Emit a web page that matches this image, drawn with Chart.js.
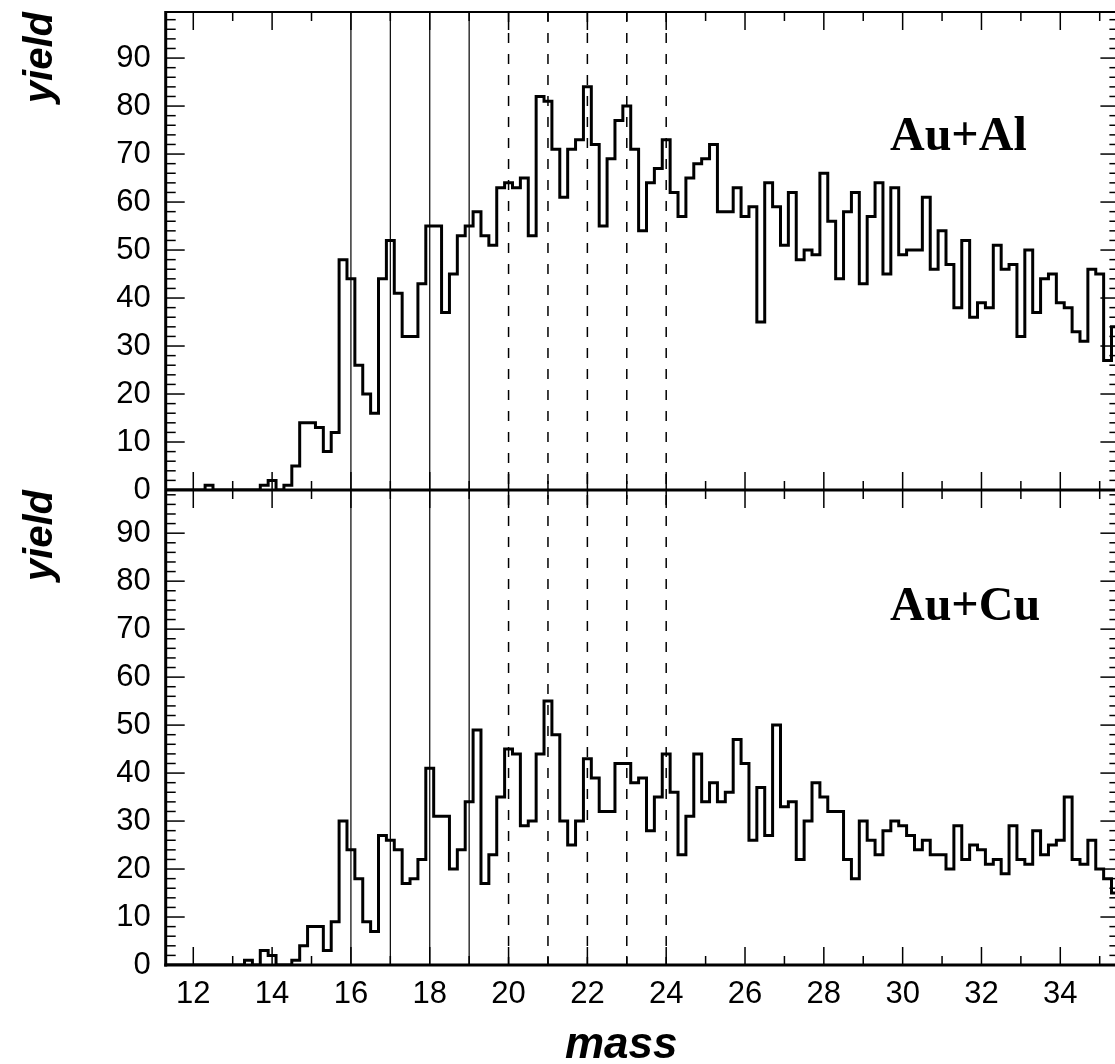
<!DOCTYPE html>
<html>
<head>
<meta charset="utf-8">
<script src="https://cdn.jsdelivr.net/npm/chart.js@4.4.1/dist/chart.umd.min.js"></script>
<style>
  html, body { margin: 0; padding: 0; background: #fff; overflow: hidden; }
  #wrap { width: 1115px; height: 1064px; overflow: hidden; }
  canvas { display: block; }
</style>
</head>
<body>
<div id="wrap"><canvas id="massChart" width="1140" height="1064"></canvas></div>
<script>
// histogram binning: 0.2 wide bins from 11.3 to 35.5 (centres 11.4 ... 35.4)
const BIN_LO = 11.3;
const BIN_W = 0.2;

// Au+Al yield per bin
const yieldAuAl = [
    0, 0, 0, 0, 0, 1, 0, 0, 0, 0, 0, 0, 1, 2, 0, 1, 5, 14, 14, 13, 8, 12, 48,
    44, 26, 20, 16, 44, 52, 41, 32, 32, 43,
    55, 55, 37, 45, 53, 55, 58, 53, 51, 63,
    64, 63, 65, 53, 82, 81, 71, 61, 71, 73,
    84, 72, 55, 69, 77, 80, 71, 54, 64, 67,
    73, 62, 57, 65, 68, 69, 72, 58, 58, 63,
    57, 59, 35, 64, 59, 51, 62, 48, 50, 49,
    66, 56, 44, 58, 62, 43, 57, 64, 45, 63,
    49, 50, 50, 61, 46, 54, 47, 38, 52, 36,
    39, 38, 51, 46, 47, 32, 50, 37, 44, 45,
    39, 38, 33, 31, 46, 45, 27, 34
];

// Au+Cu yield per bin
const yieldAuCu = [
    0, 0, 0, 0, 0, 0, 0, 0, 0, 0, 1, 0, 3, 2, 0, 0, 1, 4, 8, 8, 3, 9, 30,
    24, 18, 9, 7, 27, 26, 24, 17, 18, 22,
    41, 31, 31, 20, 24, 34, 49, 17, 23, 35,
    45, 44, 29, 30, 44, 55, 48, 30, 25, 30,
    43, 39, 32, 32, 42, 42, 38, 39, 28, 35,
    44, 36, 23, 31, 44, 34, 38, 34, 36, 47,
    42, 26, 37, 27, 50, 33, 34, 22, 30, 38,
    35, 32, 32, 22, 18, 30, 26, 23, 28, 30,
    29, 27, 24, 26, 23, 23, 20, 29, 22, 25,
    24, 21, 22, 19, 29, 22, 21, 28, 23, 25,
    26, 35, 22, 21, 26, 20, 18, 15
];

const massTicks = [12, 14, 16, 18, 20, 22, 24, 26, 28, 30, 32, 34];
const yieldTicks = [0, 10, 20, 30, 40, 50, 60, 70, 80, 90];
const solidMarks = [16, 17, 18, 19];
const dashedMarks = [20, 21, 22, 23, 24];
const panelLabels = ['Au+Al', 'Au+Cu'];

// step outline: one point on the left edge of each bin, plus the closing edge
function stepPoints(values) {
    const pts = values.map((v, i) => ({ x: BIN_LO + i * BIN_W, y: v }));
    pts.push({ x: BIN_LO + values.length * BIN_W, y: values[values.length - 1] });
    return pts;
}

const SANS = '"Liberation Sans", Arial, sans-serif';
const SERIF = '"Liberation Serif", "Times New Roman", serif';
Chart.defaults.font.family = SANS;
Chart.defaults.color = '#000';

function strokeLine(ctx, x1, y1, x2, y2) {
    ctx.beginPath();
    ctx.moveTo(x1, y1);
    ctx.lineTo(x2, y2);
    ctx.stroke();
}

// ROOT style frame: inner ticks on all sides, marker lines, panel labels
const rootFrame = {
    id: 'rootFrame',
    beforeDatasetsDraw(chart) {
        const { ctx, chartArea: a, scales: { x } } = chart;
        ctx.save();
        ctx.strokeStyle = '#000';
        ctx.lineWidth = 1.2;
        solidMarks.forEach(m => {
            const px = x.getPixelForValue(m);
            strokeLine(ctx, px, a.top, px, a.bottom);
        });
        ctx.lineWidth = 1.5;
        ctx.setLineDash([10, 11]);
        dashedMarks.forEach(m => {
            const px = x.getPixelForValue(m);
            strokeLine(ctx, px, a.top, px, a.bottom);
        });
        ctx.restore();
    },
    afterDatasetsDraw(chart) {
        const { ctx, chartArea: a, scales } = chart;
        const x = scales.x;
        ctx.save();
        ctx.strokeStyle = '#000';
        ctx.lineWidth = 1.5;
        [scales.yTop, scales.yBot].forEach(s => {
            for (let m = Math.ceil(x.min); m <= x.max; m++) {
                const px = x.getPixelForValue(m);
                const len = m % 2 === 0 ? 18 : 9;
                strokeLine(ctx, px, s.bottom, px, s.bottom - len);
                strokeLine(ctx, px, s.top, px, s.top + len);
            }
            for (let v = 0; v <= s.max; v += 2) {
                const py = s.getPixelForValue(v);
                const len = v % 10 === 0 ? 19 : 10;
                strokeLine(ctx, a.left, py, a.left + len, py);
                strokeLine(ctx, a.right, py, a.right - len, py);
            }
        });
        ctx.lineWidth = 2;
        strokeLine(ctx, a.left, a.top, a.right, a.top);
        strokeLine(ctx, a.right, a.top, a.right, a.bottom);
        ctx.lineWidth = 3;
        strokeLine(ctx, a.left, a.top - 1, a.left, a.bottom + 1.5);
        strokeLine(ctx, a.left, scales.yTop.bottom, a.right, scales.yTop.bottom);
        strokeLine(ctx, a.left - 1.5, a.bottom, a.right, a.bottom);
        ctx.restore();
    },
    afterDraw(chart) {
        const { ctx, scales } = chart;
        ctx.save();
        ctx.fillStyle = '#000';
        ctx.textBaseline = 'alphabetic';
        ctx.textAlign = 'left';
        ctx.font = 'bold 48px ' + SERIF;
        ctx.fillText(panelLabels[0], 890, scales.yTop.top + 138);
        ctx.fillText(panelLabels[1], 890, scales.yBot.top + 130);
        ctx.font = 'italic bold 44px ' + SANS;
        ctx.fillText('mass', 565, 1058);
        ctx.restore();
    }
};

function yAxis(stackWeight, max) {
    return {
        type: 'linear',
        position: 'left',
        stack: 'panels',
        stackWeight: stackWeight,
        min: 0,
        max: max,
        grid: { display: false, drawTicks: false },
        border: { display: false },
        afterBuildTicks: s => { s.ticks = yieldTicks.map(v => ({ value: v })); },
        afterFit: s => {
            s.width = 165.7;
            s.paddingTop = 0;
            s.paddingBottom = 0;
        },
        ticks: {
            padding: 15,
            autoSkip: false,
            font: { size: 31 },
            color: '#000',
            callback: v => String(v)
        },
        title: {
            display: true,
            text: 'yield',
            align: 'end',
            color: '#000',
            padding: { top: 17, bottom: 0 },
            font: { size: 40, weight: 'bold', style: 'italic' }
        }
    };
}

const ctx = document.getElementById('massChart').getContext('2d');
const massChart = new Chart(ctx, {
    type: 'line',
    data: {
        datasets: [{
            label: 'Au+Al',
            data: stepPoints(yieldAuAl),
            yAxisID: 'yTop',
            stepped: 'before',
            borderColor: '#000',
            borderWidth: 3,
            pointRadius: 0,
            fill: false
        }, {
            label: 'Au+Cu',
            data: stepPoints(yieldAuCu),
            yAxisID: 'yBot',
            stepped: 'before',
            borderColor: '#000',
            borderWidth: 3,
            pointRadius: 0,
            fill: false
        }]
    },
    options: {
        responsive: false,
        devicePixelRatio: 1,
        animation: false,
        layout: { padding: { top: 12, right: 20.6, left: 0, bottom: 0 } },
        plugins: {
            legend: { display: false },
            tooltip: { enabled: false }
        },
        scales: {
            x: {
                type: 'linear',
                position: 'bottom',
                min: BIN_LO,
                max: BIN_LO + yieldAuAl.length * BIN_W,
                grid: { display: false, drawTicks: false },
                border: { display: false },
                afterBuildTicks: s => { s.ticks = massTicks.map(v => ({ value: v })); },
                afterFit: s => {
                    s.height = 99;
                    s.paddingLeft = 0;
                    s.paddingRight = 0;
                },
                ticks: {
                    padding: 11,
                    maxRotation: 0,
                    autoSkip: false,
                    font: { size: 31 },
                    color: '#000',
                    callback: v => String(v)
                }
            },
            yBot: yAxis(475, 99.0),
            yTop: yAxis(478, 99.6)
        }
    },
    plugins: [rootFrame]
});
</script>
</body>
</html>
